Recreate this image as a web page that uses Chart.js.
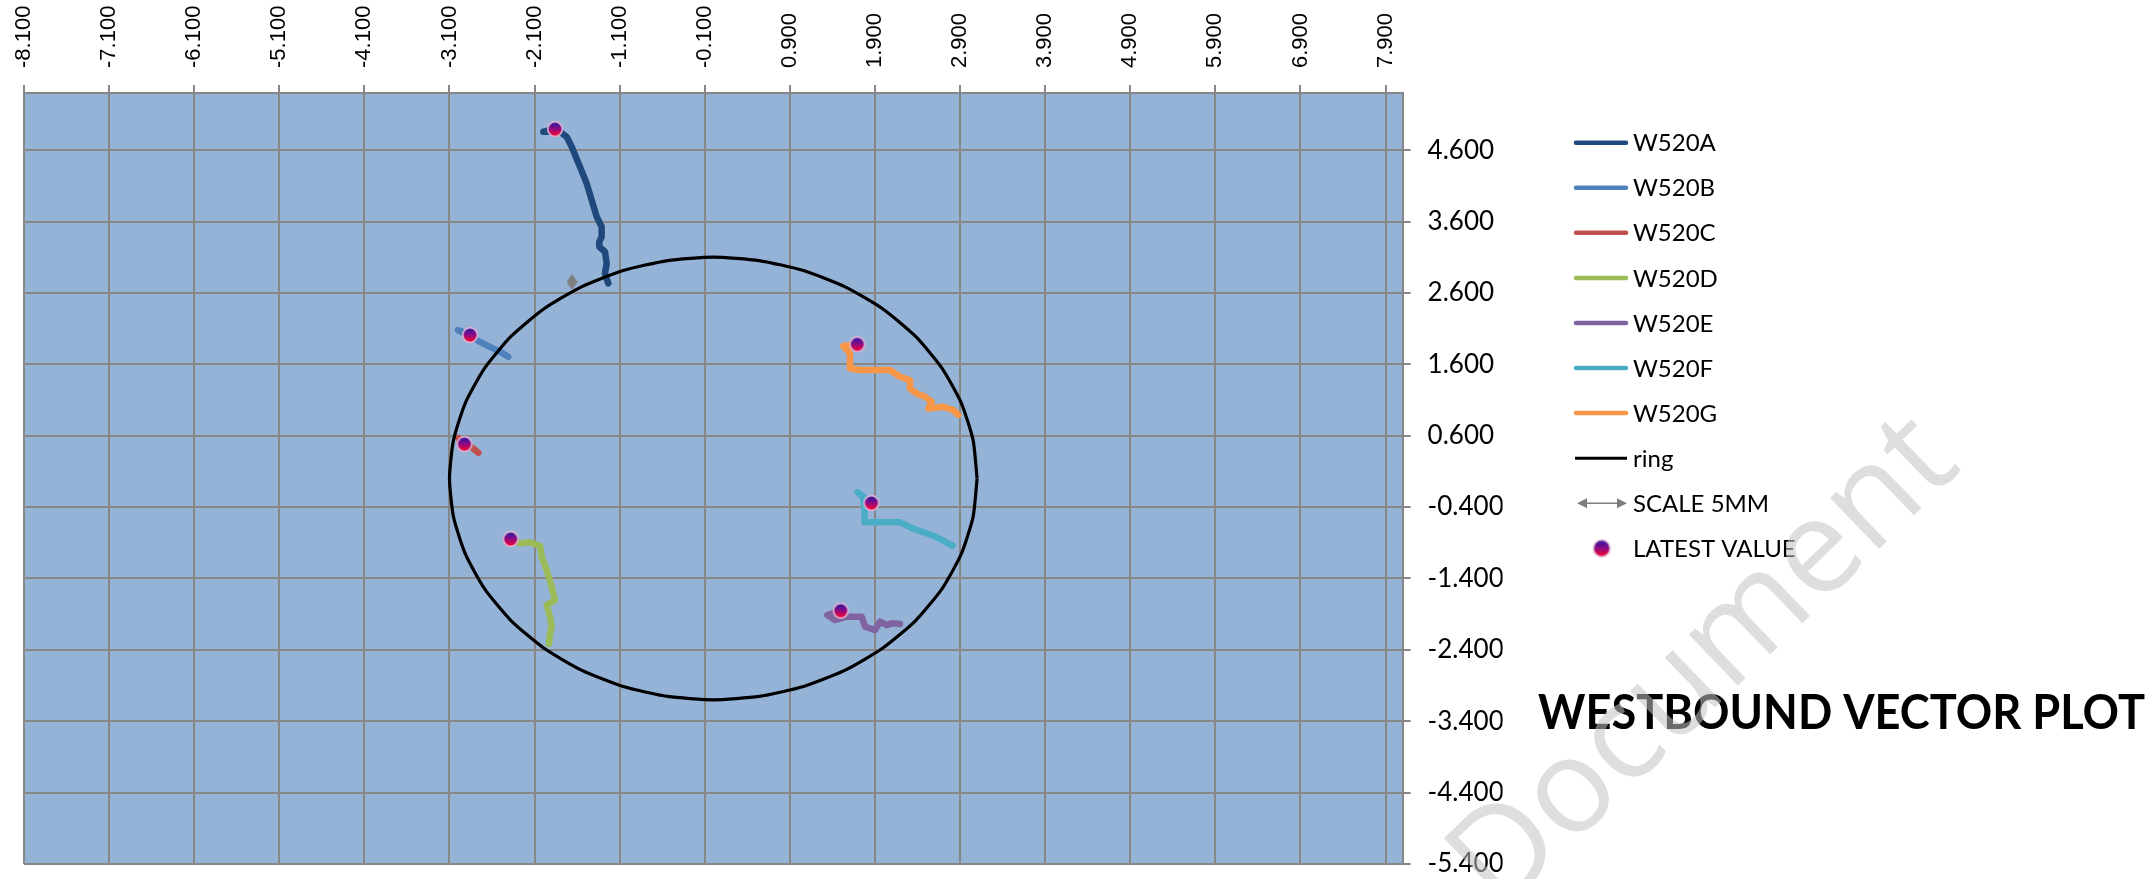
<!DOCTYPE html>
<html>
<head>
<meta charset="utf-8">
<script src="https://cdn.jsdelivr.net/npm/chart.js@4.4.1/dist/chart.umd.min.js"></script>
<style>
html,body{margin:0;padding:0;background:#ffffff;}
#wrap{width:2155px;height:879px;position:relative;}
canvas{display:block;}
</style>
</head>
<body>
<div id="wrap"><canvas id="c" width="2155" height="879"></canvas></div>
<script>
// ---------- DATA ----------
const xTicks = [-8.1,-7.1,-6.1,-5.1,-4.1,-3.1,-2.1,-1.1,-0.1,0.9,1.9,2.9,3.9,4.9,5.9,6.9,7.9];
const yTicks = [-5.4,-4.4,-3.4,-2.4,-1.4,-0.4,0.6,1.6,2.6,3.6,4.6];
const xRange = [-8.1, 8.1];
const yRange = [-5.4, 5.4];

const seriesNames = ['W520A','W520B','W520C','W520D','W520E','W520F','W520G'];

// each trace runs from first reading to the latest reading
const W520A = [[-1.234,2.733],[-1.273,2.873],[-1.253,3.013],[-1.273,3.176],[-1.340,3.246],[-1.340,3.316],
  [-1.312,3.386],[-1.312,3.526],[-1.370,3.666],[-1.429,3.900],[-1.488,4.134],[-1.567,4.366],[-1.664,4.646],
  [-1.723,4.786],[-1.801,4.857],[-1.998,4.857],[-1.860,4.894]];
const W520B = [[-2.409,1.705],[-2.506,1.775],[-2.624,1.845],[-2.741,1.915],[-3.000,2.080],[-2.859,2.009]];
const W520C = [[-2.761,0.360],[-2.820,0.420],[-2.900,0.490],[-3.000,0.570],[-2.924,0.482]];
const W520D = [[-1.931,-2.319],[-1.919,-2.169],[-1.899,-2.076],[-1.919,-1.936],[-1.958,-1.773],[-1.860,-1.703],
  [-1.911,-1.469],[-1.958,-1.282],[-2.017,-1.096],[-2.037,-0.942],[-2.154,-0.894],[-2.272,-0.908],[-2.381,-0.848]];
const W520E = [[2.194,-2.039],[2.096,-2.029],[2.038,-2.053],[1.959,-2.006],[1.900,-2.123],[1.783,-2.076],
  [1.744,-1.936],[1.567,-1.936],[1.430,-1.983],[1.339,-1.913],[1.497,-1.852]];
const W520F = [[2.811,-0.941],[2.600,-0.806],[2.358,-0.708],[2.196,-0.614],[1.954,-0.614],[1.777,-0.614],
  [1.777,-0.421],[1.759,-0.267],[1.696,-0.190],[1.858,-0.344]];
const W520G = [[2.879,0.889],[2.821,0.959],[2.703,1.005],[2.527,0.982],[2.566,1.075],[2.488,1.145],[2.390,1.192],
  [2.311,1.262],[2.311,1.379],[2.194,1.425],[2.076,1.519],[1.724,1.519],[1.606,1.543],[1.606,1.753],[1.528,1.855],[1.692,1.879]];

const ring = [[3.100,0.000],[3.053,0.538],[2.913,1.060],[2.685,1.550],[2.375,1.993],[1.993,2.375],[1.550,2.685],
  [1.060,2.913],[0.538,3.053],[0.000,3.100],[-0.538,3.053],[-1.060,2.913],[-1.550,2.685],[-1.993,2.375],
  [-2.375,1.993],[-2.685,1.550],[-2.913,1.060],[-3.053,0.538],[-3.100,0.000],[-3.053,-0.538],[-2.913,-1.060],
  [-2.685,-1.550],[-2.375,-1.993],[-1.993,-2.375],[-1.550,-2.685],[-1.060,-2.913],[-0.538,-3.053],[0.000,-3.100],
  [0.538,-3.053],[1.060,-2.913],[1.550,-2.685],[1.993,-2.375],[2.375,-1.993],[2.685,-1.550],[2.913,-1.060],
  [3.053,-0.538],[3.100,0.000]];
const scale5mm = [[-1.660,2.755]];

const seriesColors = ['#1F497D','#4F81BD','#C0504D','#9BBB59','#8064A2','#4BACC6','#F79646'];
const titleText = 'WESTBOUND VECTOR PLOT';
const watermarkText = 'Document';

// ---------- helpers ----------
const seriesData = [W520A,W520B,W520C,W520D,W520E,W520F,W520G];
const toPts = arr => arr.map(p => ({x:p[0], y:p[1]}));
const latest = seriesData.map(s => s[s.length-1]);

function makeMarker(d){
  const c = document.createElement('canvas'); c.width = c.height = d;
  const g = c.getContext('2d'); const r = d/2;
  const grad = g.createLinearGradient(0,2,0,d-2);
  grad.addColorStop(0,'#24189c'); grad.addColorStop(0.45,'#860c88'); grad.addColorStop(1,'#ff0028');
  g.beginPath(); g.arc(r,r,r-1.7,0,Math.PI*2); g.fillStyle = grad; g.fill();
  g.lineWidth = 1.7; g.strokeStyle = 'rgba(228,180,212,0.95)'; g.stroke();
  return c;
}
function makeDiamond(){
  const c = document.createElement('canvas'); c.width = 11; c.height = 16;
  const g = c.getContext('2d');
  g.beginPath(); g.moveTo(5.5,0); g.lineTo(11,8); g.lineTo(5.5,16); g.lineTo(0,8); g.closePath();
  g.fillStyle = '#7f7f7f'; g.fill();
  return c;
}
const markerImg = makeMarker(18);
const legendMarkerImg = makeMarker(20);
const diamondImg = makeDiamond();

const datasets = [];
seriesData.forEach((s,i) => {
  datasets.push({label: seriesNames[i], kind:'line', data: toPts(s), showLine:true,
    borderColor: seriesColors[i], backgroundColor: seriesColors[i], borderWidth:6.5,
    borderCapStyle:'round', borderJoinStyle:'round', pointRadius:0, pointHoverRadius:0, order: 4+i});
});
datasets.push({label:'ring', kind:'ring', data: toPts(ring), showLine:true, borderColor:'#000000',
  backgroundColor:'#000000', borderWidth:3.2, pointRadius:0, pointHoverRadius:0, tension:0.2, order:3});
datasets.push({label:'SCALE 5MM', kind:'arrow', data: toPts(scale5mm), showLine:false,
  pointStyle: diamondImg, pointRadius:8, borderColor:'#7f7f7f', backgroundColor:'#7f7f7f', order:2});
datasets.push({label:'LATEST VALUE', kind:'marker', data: toPts(latest), showLine:false,
  pointStyle: markerImg, pointRadius:9, order:1});

const gridColor = '#878787';
const xFontSize = 22;

const bgPlugin = {
  id:'bg',
  beforeDraw(chart){
    const {ctx, chartArea:a} = chart;
    ctx.save();
    ctx.fillStyle = '#ffffff'; ctx.fillRect(0,0,chart.width,chart.height);
    ctx.fillStyle = '#95B3D7'; ctx.fillRect(a.left,a.top,a.right-a.left,a.bottom-a.top);
    ctx.restore();
  }
};

const legendPlugin = {
  id:'customLegend',
  afterDraw(chart){
    const ctx = chart.ctx;
    const x0 = 1574, x1 = 1628, tx = 1633, y0 = 142.7, dy = 45.07;
    ctx.save();
    chart.data.datasets.forEach((ds,i) => {
      const y = y0 + i*dy;
      if (ds.kind === 'line') {
        ctx.strokeStyle = ds.borderColor; ctx.lineWidth = 4.5; ctx.lineCap = 'round';
        ctx.beginPath(); ctx.moveTo(x0+2,y); ctx.lineTo(x1-2,y); ctx.stroke();
      } else if (ds.kind === 'ring') {
        ctx.strokeStyle = '#000'; ctx.lineWidth = 3; ctx.lineCap = 'butt';
        ctx.beginPath(); ctx.moveTo(x0+1,y); ctx.lineTo(x1-1,y); ctx.stroke();
      } else if (ds.kind === 'arrow') {
        ctx.strokeStyle = '#7f7f7f'; ctx.fillStyle = '#7f7f7f'; ctx.lineWidth = 1.5;
        ctx.beginPath(); ctx.moveTo(x0+10,y); ctx.lineTo(x1-10,y); ctx.stroke();
        ctx.beginPath(); ctx.moveTo(x0+3,y); ctx.lineTo(x0+13,y-5); ctx.lineTo(x0+13,y+5); ctx.closePath(); ctx.fill();
        ctx.beginPath(); ctx.moveTo(x1-1,y); ctx.lineTo(x1-11,y-5); ctx.lineTo(x1-11,y+5); ctx.closePath(); ctx.fill();
      } else if (ds.kind === 'marker') {
        ctx.drawImage(legendMarkerImg, 1601.7 - 10, y - 10);
      }
      ctx.fillStyle = '#000'; ctx.font = '24px Lato'; ctx.textAlign = 'left'; ctx.textBaseline = 'alphabetic';
      ctx.fillText(ds.label, tx, y + 8.6);
    });
    // title
    ctx.font = 'bold 47px Lato';
    const w = ctx.measureText(titleText).width;
    ctx.translate(1538, 729);
    ctx.scale(607 / w, 1);
    ctx.fillText(titleText, 0, 0);
    ctx.restore();
    // watermark
    ctx.save();
    ctx.translate(1500, 915);
    ctx.rotate(-44 * Math.PI/180);
    ctx.font = '132px "Open Sans"';
    ctx.fillStyle = 'rgba(195,195,195,0.55)';
    ctx.fillText(watermarkText, 0, 0);
    ctx.restore();
  }
};

new Chart(document.getElementById('c'), {
  type:'scatter',
  data:{ datasets },
  options:{
    responsive:false, devicePixelRatio:1, animation:false,
    layout:{ padding:{ left:24, right:652.4, top:0, bottom:15 } },
    plugins:{ legend:{display:false}, tooltip:{enabled:false}, title:{display:false} },
    scales:{
      x:{
        type:'linear', position:'top', min:xRange[0], max:xRange[1],
        afterBuildTicks(scale){ scale.ticks = xTicks.map(v => ({value:v})); },
        afterFit(scale){ scale.height = 93; scale.paddingLeft = 0; scale.paddingRight = 0; },
        ticks:{ callback:v => Number(v).toFixed(3), minRotation:90, maxRotation:90, autoSkip:false,
          padding:17, labelOffset: 1.2 * xFontSize, color:'#000',
          font:{family:'"Liberation Sans"', size:xFontSize} },
        grid:{ color:gridColor, lineWidth:2, tickLength:8, drawTicks:true },
        border:{ display:true, color:gridColor, width:2 }
      },
      y:{
        type:'linear', position:'right', min:yRange[0], max:yRange[1],
        afterBuildTicks(scale){ scale.ticks = yTicks.map(v => ({value:v})); },
        afterFit(scale){ scale.width = 100; scale.paddingTop = 0; scale.paddingBottom = 0; },
        ticks:{ callback:v => Number(v).toFixed(3), autoSkip:false, padding:17, color:'#000',
          font:{family:'Lato', size:26} },
        grid:{ color:gridColor, lineWidth:2, tickLength:8, drawTicks:true },
        border:{ display:true, color:gridColor, width:2 }
      }
    }
  },
  plugins:[bgPlugin, legendPlugin]
});
</script>
</body>
</html>
